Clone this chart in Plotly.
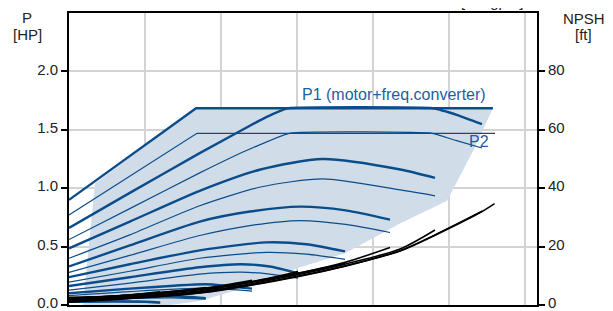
import plotly.graph_objects as go

# ---------------- data (flow in US gpm, power in HP, NPSH in ft) ----------------
# power limit envelopes (over-speed / power-limited curves)
LIM_P1_Q = [0, 8.36, 27.89]
LIM_P1_P = [0.90, 1.684, 1.684]
LIM_P2_Q = [0, 8.42, 28.03]
LIM_P2_P = [0.77, 1.47, 1.47]

# P1 (motor + freq. converter) curves per speed, highest speed first
P1_Q = [
    [0, 4.0, 8.6, 12.4, 13.4, 14.4, 23.95, 25.6, 27.17],
    [0, 4.0, 8.6, 12.6, 16.7, 21.8, 24.08],
    [0, 4.0, 8.6, 11.9, 15.2, 18.2, 21.12],
    [0, 4.0, 8.6, 13.0, 15.6, 18.16],
    [0, 4.0, 8.6, 11.3, 13.2, 15.07],
    [0, 4.0, 6.9, 9.0, 12.04],
    [0, 3.0, 6.75, 9.0],
    [0, 3.0, 4.5, 6.0],
]
P1_P = [
    [0.66, 0.96, 1.30, 1.57, 1.635, 1.684, 1.684, 1.624, 1.548],
    [0.485, 0.714, 0.978, 1.16, 1.25, 1.16, 1.088],
    [0.33, 0.51, 0.714, 0.80, 0.842, 0.81, 0.731],
    [0.238, 0.349, 0.468, 0.536, 0.52, 0.459],
    [0.162, 0.238, 0.323, 0.349, 0.33, 0.272],
    [0.10, 0.14, 0.165, 0.178, 0.14],
    [0.055, 0.068, 0.075, 0.059],
    [0.028, 0.032, 0.030, 0.022],
]
# P2 (shaft power) curves per speed
P2_Q = [
    [0, 4.0, 8.6, 11.6, 14.5, 23.9, 25.5, 27.17],
    [0, 4.0, 8.6, 12.6, 16.7, 21.8, 24.08],
    [0, 4.0, 8.6, 11.9, 15.2, 18.2, 21.12],
    [0, 4.0, 8.6, 13.0, 15.6, 18.16],
    [0, 4.0, 8.6, 11.3, 13.2, 15.07],
    [0, 4.0, 9.0, 12.04],
    [0, 3.0, 6.75, 9.0],
    [0, 3.0, 4.5, 6.0],
]
P2_P = [
    [0.56, 0.825, 1.131, 1.318, 1.47, 1.47, 1.407, 1.344],
    [0.40, 0.60, 0.85, 1.01, 1.08, 0.985, 0.935],
    [0.28, 0.425, 0.595, 0.68, 0.723, 0.69, 0.621],
    [0.196, 0.289, 0.40, 0.451, 0.435, 0.391],
    [0.128, 0.187, 0.264, 0.281, 0.265, 0.230],
    [0.08, 0.115, 0.144, 0.118],
    [0.045, 0.055, 0.061, 0.050],
    [0.022, 0.026, 0.025, 0.018],
]
# NPSH curves per speed (over-speed first)
NPSH_Q = [
    [0, 8.62, 15.2, 18.16, 21.78, 24.08, 27.17, 28.0],
    [0, 8.62, 15.2, 18.16, 21.78, 24.08, 27.17],
    [0, 8.62, 15.2, 18.16, 21.78, 24.08],
    [0, 8.62, 15.2, 18.16, 21.12],
    [0, 8.62, 15.2, 18.16],
    [0, 8.62, 12.0, 15.07],
    [0, 6.0, 9.0, 12.04],
    [0, 4.5, 9.0],
    [0, 3.0, 6.0],
]
NPSH_V = [
    [1.0, 4.1, 9.9, 13.3, 18.5, 23.9, 32.0, 34.7],
    [1.1, 4.2, 10.0, 13.4, 18.6, 24.0, 32.1],
    [1.3, 4.5, 10.5, 14.0, 19.2, 25.7],
    [1.6, 4.9, 11.0, 14.6, 19.7],
    [1.9, 5.2, 11.0, 14.3],
    [2.1, 5.5, 8.0, 11.5],
    [2.3, 4.0, 5.8, 8.5],
    [2.5, 3.5, 6.0],
    [2.6, 3.0, 4.5],
]
# operating range (shaded area)
AREA_Q = [1.71, 8.36, 27.89, 27.5, 26.58, 24.87, 21.78, 18.16, 15.2, 11.91, 8.62, 6.64, 0.92]
AREA_P = [1.04, 1.684, 1.684, 1.573, 1.318, 0.893, 0.697, 0.442, 0.323, 0.162, 0.034, 0.0, 0.0]

P_TICKS = [0, 0.5, 1.0, 1.5, 2.0]
NPSH_TICKS = [0, 20, 40, 60, 80]

BLUE = "#0b4d8c"
TXT_BLUE = "#1f5e9e"
FONT = "Liberation Sans, Arial, sans-serif"

fig = go.Figure()
fig.add_trace(go.Scatter(x=AREA_Q, y=AREA_P, fill="toself", fillcolor="#d0dce8",
                         mode="lines", line=dict(width=0), hoverinfo="skip", showlegend=False))

for i, (q, p) in enumerate(zip(P2_Q, P2_P)):
    fig.add_trace(go.Scatter(x=q, y=p, mode="lines",
                             line=dict(color=BLUE, width=1.2, shape="spline", smoothing=0.35 if i == 0 else 0.7),
                             showlegend=False, hoverinfo="skip"))
for i, (q, p) in enumerate(zip(P1_Q, P1_P)):
    fig.add_trace(go.Scatter(x=q, y=p, mode="lines",
                             line=dict(color=BLUE, width=2.4, shape="spline", smoothing=0.35 if i == 0 else 0.7),
                             showlegend=False, hoverinfo="skip"))
fig.add_trace(go.Scatter(x=LIM_P2_Q, y=LIM_P2_P, mode="lines", line=dict(color=BLUE, width=1.2),
                         showlegend=False, hoverinfo="skip"))
fig.add_trace(go.Scatter(x=LIM_P1_Q, y=LIM_P1_P, mode="lines", line=dict(color=BLUE, width=2.4),
                         showlegend=False, hoverinfo="skip"))
for q, n in zip(NPSH_Q, NPSH_V):
    fig.add_trace(go.Scatter(x=q, y=n, yaxis="y2", mode="lines",
                             line=dict(color="black", width=1.6, shape="spline", smoothing=0.8),
                             showlegend=False, hoverinfo="skip"))

fig.add_annotation(x=15.2, y=1.80, xref="x", yref="y", text="P1 (motor+freq.converter)",
                   showarrow=False, xanchor="left", yanchor="middle",
                   font=dict(family=FONT, size=16, color=TXT_BLUE))
fig.add_annotation(x=26.97, y=1.40, xref="x", yref="y", text="P2",
                   showarrow=False, xanchor="center", yanchor="middle",
                   font=dict(family=FONT, size=16, color=TXT_BLUE))
for txt, xp, yp in [("P", -0.0897, 0.985), ("[HP]", -0.0897, 0.926),
                    ("NPSH", 1.1004, 0.982), ("[ft]", 1.1004, 0.926)]:
    fig.add_annotation(x=xp, y=yp, xref="paper", yref="paper", text=txt,
                       showarrow=False, xanchor="center", yanchor="middle",
                       font=dict(family=FONT, size=15, color="#222"))
fig.add_annotation(x=0.904, y=1.0, xref="paper", yref="paper", text="[US gpm]", yshift=1,
                   showarrow=False, xanchor="center", yanchor="bottom",
                   font=dict(family=FONT, size=15, color="#222"))

# the page body has an 8 px margin, so margins are reduced to keep the plot area in place
fig.update_layout(
    width=613, height=311,
    margin=dict(l=61, r=84, t=3, b=14),
    paper_bgcolor="white", plot_bgcolor="white",
    font=dict(family=FONT, size=15, color="#222"),
    xaxis=dict(range=[0, 30.79], dtick=5, showticklabels=False, ticks="",
               showgrid=True, gridcolor="#d3d3d3", gridwidth=1.5, zeroline=False,
               showline=True, linecolor="black", linewidth=2, mirror=True),
    yaxis=dict(range=[0, 2.5], tickvals=P_TICKS, tickformat=".1f", ticks="outside",
               ticklen=6, tickwidth=2, tickcolor="black", ticklabelshift=-2,
               showgrid=True, gridcolor="#d3d3d3", gridwidth=1.5, zeroline=False,
               showline=True, linecolor="black", linewidth=2, mirror=True),
    yaxis2=dict(range=[0, 100], tickvals=NPSH_TICKS, overlaying="y", side="right",
                ticks="outside", ticklen=6, tickwidth=2, tickcolor="black", ticklabelshift=-2,
                showgrid=False, zeroline=False, showline=True, linecolor="black", linewidth=2),
)

fig.write_html("out.html")
